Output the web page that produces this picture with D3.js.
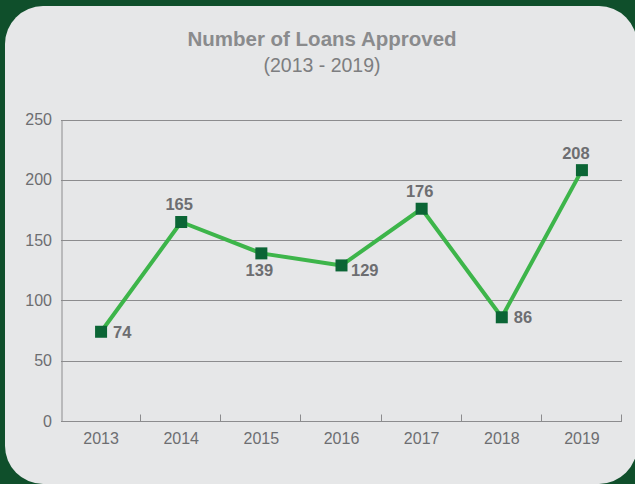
<!DOCTYPE html>
<html>
<head>
<meta charset="utf-8">
<script src="https://cdn.jsdelivr.net/npm/d3@7"></script>
<style>
  html, body { margin: 0; padding: 0; background: #0f4f2b; }
  svg { display: block; font-family: "Liberation Sans", Arial, Helvetica, sans-serif; }
</style>
</head>
<body>
<svg id="chart" width="635" height="484"></svg>
<script>
// Loans approved per year
const years = ["2013", "2014", "2015", "2016", "2017", "2018", "2019"];
const loans = [74, 165, 139, 129, 176, 86, 208];
const yTicks = [0, 50, 100, 150, 200, 250];
// Where each value label sits relative to its marker
const labelSide = ["right", "above", "below", "belowRight", "above", "right", "aboveLeft"];

const titleText = "Number of Loans Approved";
const subtitleText = "(2013 - 2019)";

const W = 635, H = 484;
const margin = { left: 61, right: 13, top: 119.5, bottom: 63 };

const svg = d3.select("#chart");

// Page background and rounded card
svg.append("rect").attr("width", W).attr("height", H).attr("fill", "#0f4f2b");
svg.append("rect")
  .attr("x", 5).attr("y", 6)
  .attr("width", 632).attr("height", 478)
  .attr("rx", 38).attr("ry", 38)
  .attr("fill", "#e6e7e8");

// Title block
svg.append("text")
  .attr("x", 322).attr("y", 46)
  .attr("text-anchor", "middle")
  .attr("font-size", 20.5).attr("font-weight", 700)
  .attr("fill", "#8a8b8d")
  .text(titleText);
svg.append("text")
  .attr("x", 322).attr("y", 72)
  .attr("text-anchor", "middle")
  .attr("font-size", 19.5)
  .attr("fill", "#7d7e80")
  .text(subtitleText);

const x = d3.scaleBand()
  .domain(years)
  .range([margin.left, W - margin.right])
  .paddingInner(0).paddingOuter(0);

const y = d3.scaleLinear()
  .domain([0, 250])
  .range([H - margin.bottom, margin.top]);

const axisColor = "#8c8c8e";
const textColor = "#6d6e71";

// Horizontal gridlines
svg.append("g")
  .selectAll("line")
  .data(yTicks.filter(d => d > 0))
  .join("line")
  .attr("x1", margin.left).attr("x2", W - margin.right)
  .attr("y1", d => Math.round(y(d)) + 0.5).attr("y2", d => Math.round(y(d)) + 0.5)
  .attr("stroke", axisColor).attr("stroke-width", 1);

// Y axis (line + labels)
const yAxis = svg.append("g")
  .attr("transform", `translate(${margin.left + 0.5},0)`)
  .call(d3.axisLeft(y).tickValues(yTicks).tickSize(0).tickPadding(9.5));
yAxis.select(".domain").attr("stroke", axisColor);
yAxis.selectAll("text")
  .attr("font-size", 16).attr("fill", textColor)
  .attr("font-family", "'Liberation Sans', Arial, sans-serif");

// X axis with ticks at band boundaries, pointing up
const xBase = Math.round(y(0)) + 0.5;
const xAxisG = svg.append("g");
xAxisG.append("line")
  .attr("x1", margin.left).attr("x2", W - margin.right)
  .attr("y1", xBase).attr("y2", xBase)
  .attr("stroke", axisColor);
const boundaries = years.map(d => x(d) + x.bandwidth());
xAxisG.selectAll("line.tick")
  .data(boundaries)
  .join("line")
  .attr("class", "tick")
  .attr("x1", d => Math.round(d) - 0.5).attr("x2", d => Math.round(d) - 0.5)
  .attr("y1", xBase).attr("y2", xBase - 7)
  .attr("stroke", axisColor);
xAxisG.selectAll("text")
  .data(years)
  .join("text")
  .attr("x", d => x(d) + x.bandwidth() / 2)
  .attr("y", 444)
  .attr("text-anchor", "middle")
  .attr("font-size", 16).attr("fill", textColor)
  .text(d => d);

// Series line
const pts = years.map((d, i) => ({ year: d, value: loans[i], side: labelSide[i] }));
const cx = d => x(d.year) + x.bandwidth() / 2;
const cy = d => y(d.value);

svg.append("path")
  .datum(pts)
  .attr("fill", "none")
  .attr("stroke", "#3db54a")
  .attr("stroke-width", 4)
  .attr("stroke-linejoin", "round")
  .attr("d", d3.line().x(cx).y(cy));

// Square markers
const size = 12;
svg.append("g")
  .selectAll("rect")
  .data(pts)
  .join("rect")
  .attr("x", d => cx(d) - size / 2)
  .attr("y", d => cy(d) - size / 2)
  .attr("width", size).attr("height", size)
  .attr("fill", "#0b6535");

// Value labels
const labelPos = {
  right:      { dx: 12,  dy: 6,   anchor: "start" },
  belowRight: { dx: 9.5, dy: 11,  anchor: "start" },
  above:      { dx: -2,  dy: -12, anchor: "middle" },
  aboveLeft:  { dx: -6,  dy: -11, anchor: "middle" },
  below:      { dx: -2,  dy: 23,  anchor: "middle" }
};
svg.append("g")
  .selectAll("text")
  .data(pts)
  .join("text")
  .attr("x", d => cx(d) + labelPos[d.side].dx)
  .attr("y", d => cy(d) + labelPos[d.side].dy)
  .attr("text-anchor", d => labelPos[d.side].anchor)
  .attr("font-size", 16.5).attr("font-weight", 700)
  .attr("fill", textColor)
  .text(d => d.value);
</script>
</body>
</html>
